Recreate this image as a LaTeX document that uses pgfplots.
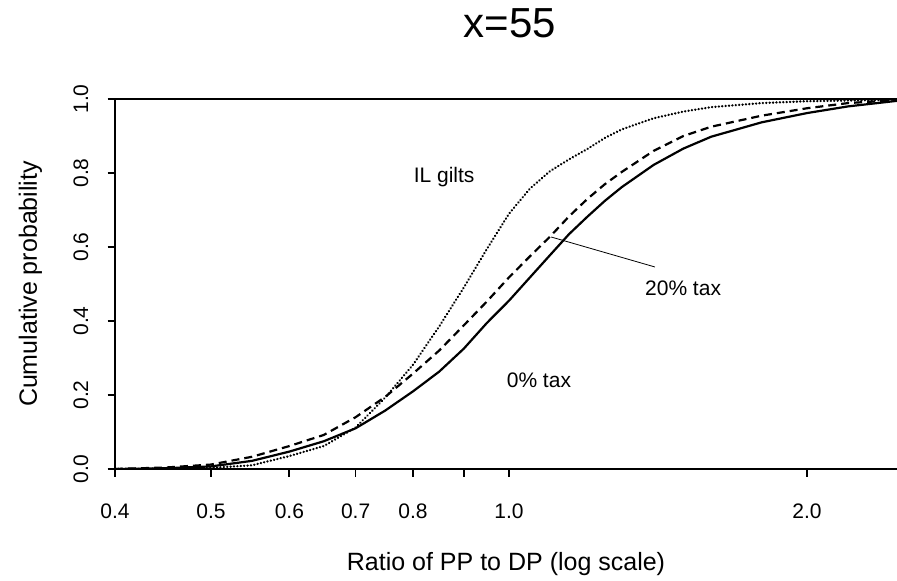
\documentclass[border=0pt]{standalone}
\usepackage{fontspec}
\setmainfont{Liberation Sans}
\usepackage{pgfplots}
\pgfplotsset{compat=1.18}
\begin{document}
\begin{tikzpicture}
\begin{axis}[
  at={(0,0)}, anchor=south west,
  scale only axis, width=782bp, height=370bp,
  xmode=log, xmin=0.4, xmax=2.465, ymin=0, ymax=1,
  axis x line*=bottom, axis y line*=left,
  xtick={0.4,0.5,0.6,0.7,0.8,0.9,1,2},
  xticklabels={0.4,0.5,0.6,0.7,0.8,,1.0,2.0},
  ytick={0,0.2,0.4,0.6,0.8,1},
  yticklabels={0.0,0.2,0.4,0.6,0.8,1.0},
  tick align=outside,
  major tick length=7.5bp,
  tick style={black, line width=1.7bp},
  x axis line style={line width=1.7bp},
  y axis line style={line width=1.7bp},
  tick label style={font=\fontsize{21bp}{24bp}\selectfont},
  xticklabel style={anchor=north, inner sep=0pt, yshift=-27bp},
  yticklabel style={xshift=-19bp, rotate=90, anchor=south, inner sep=0pt},
  xlabel={Ratio of PP to DP (log scale)},
  xlabel style={font=\fontsize{25bp}{28bp}\selectfont, at={(axis description cs:0.5,0)}, anchor=base, yshift=-101bp, inner sep=0pt},
  ylabel={Cumulative probability},
  ylabel style={font=\fontsize{25bp}{28bp}\selectfont, at={(axis description cs:-0.09974,0.5)}, anchor=base, inner sep=0pt},
  title={x=55},
  title style={font=\fontsize{42bp}{46bp}\selectfont, at={(axis description cs:0.505,1)}, anchor=base, yshift=56bp, inner sep=0pt},
]
\addplot[black, line width=1.7bp] coordinates {(0.4,1) (2.465,1)};
% 0% tax (solid)
\addplot[black, line width=2.2bp] coordinates {
(0.40,0.000) (0.45,0.002) (0.50,0.007) (0.55,0.022) (0.60,0.047) (0.65,0.075)
(0.70,0.110) (0.75,0.158) (0.80,0.210) (0.85,0.263) (0.90,0.325) (0.95,0.395)
(1.00,0.455) (1.05,0.518) (1.10,0.578) (1.15,0.635) (1.20,0.682) (1.25,0.725)
(1.30,0.762) (1.40,0.822) (1.50,0.866) (1.60,0.898) (1.80,0.937) (2.00,0.962)
(2.20,0.980) (2.465,0.995)};
% 20% tax (dashed)
\addplot[black, line width=2.2bp, dash pattern=on 8bp off 5bp] coordinates {
(0.40,0.000) (0.45,0.004) (0.50,0.012) (0.55,0.033) (0.60,0.062) (0.65,0.092)
(0.70,0.140) (0.75,0.195) (0.80,0.258) (0.85,0.320) (0.90,0.388) (0.95,0.453)
(1.00,0.518) (1.05,0.575) (1.10,0.628) (1.15,0.683) (1.20,0.730) (1.25,0.770)
(1.30,0.803) (1.40,0.860) (1.50,0.900) (1.60,0.925) (1.80,0.955) (2.00,0.975)
(2.20,0.989) (2.465,0.997)};
% IL gilts (dotted)
\addplot[black, line width=2.5bp, line cap=round, dash pattern=on 0.1bp off 3.3bp] coordinates {
(0.40,0.000) (0.45,0.001) (0.50,0.003) (0.55,0.010) (0.60,0.035) (0.65,0.062)
(0.70,0.112) (0.75,0.193) (0.80,0.282) (0.85,0.385) (0.90,0.490) (0.95,0.595)
(1.00,0.690) (1.05,0.758) (1.10,0.805) (1.15,0.837) (1.20,0.865) (1.25,0.895)
(1.30,0.918) (1.40,0.948) (1.50,0.966) (1.60,0.978) (1.80,0.989) (2.00,0.994)
(2.465,0.998)};
\draw[black, line width=0.8bp] (axis cs:1.103,0.627) -- (axis cs:1.404,0.546);
\node[font=\fontsize{21bp}{24bp}\selectfont, anchor=base] at (axis cs:0.860,0.773) {IL gilts};
\node[font=\fontsize{21bp}{24bp}\selectfont, anchor=base] at (axis cs:1.499,0.470) {20\% tax};
\node[font=\fontsize{21bp}{24bp}\selectfont, anchor=base] at (axis cs:1.072,0.219) {0\% tax};
\end{axis}
\pgfresetboundingbox
\path[use as bounding box] (-115bp,-112bp) rectangle (782bp,469bp);
\end{tikzpicture}
\end{document}
